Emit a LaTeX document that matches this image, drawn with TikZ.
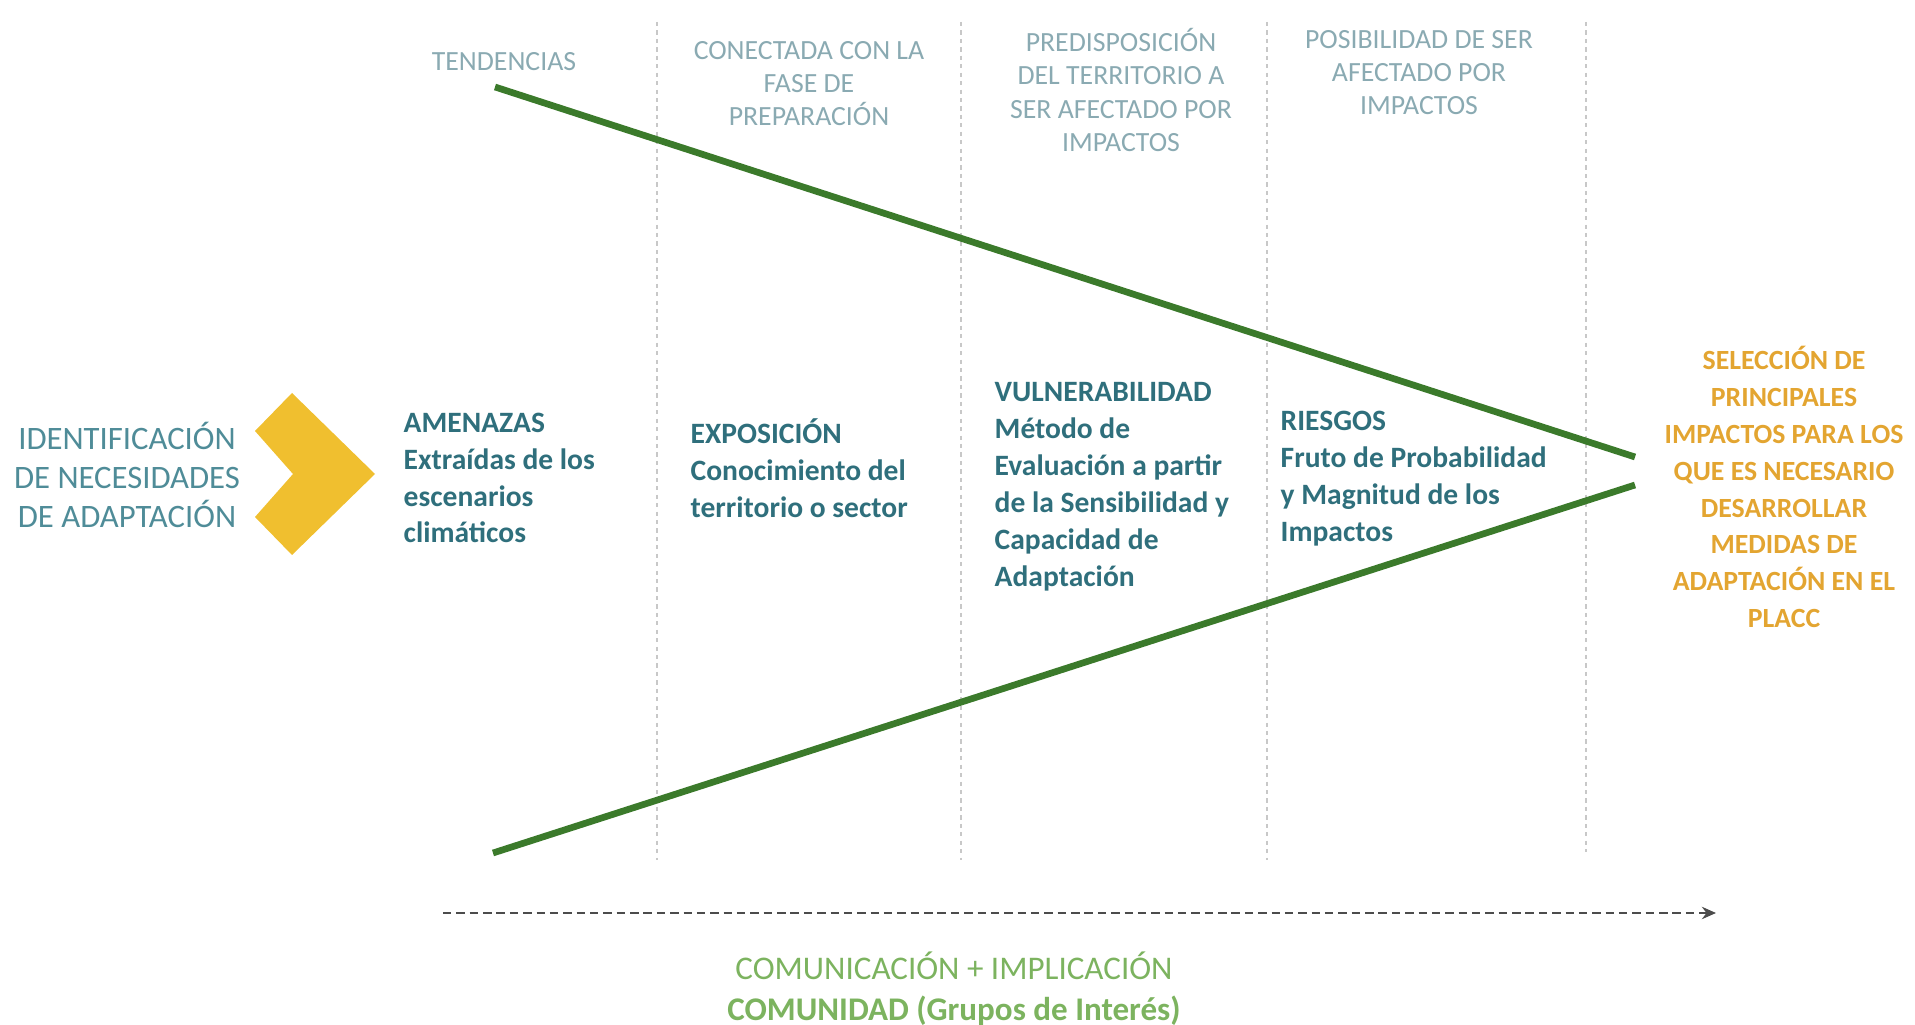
\documentclass[tikz,border=0pt]{standalone}
\usepackage{fontspec}
\setmainfont{Carlito}
\usetikzlibrary{arrows.meta}

\definecolor{headgray}{HTML}{8AAAB2}
\definecolor{leftteal}{HTML}{4F8C98}
\definecolor{phaseteal}{HTML}{2F6F7C}
\definecolor{resorange}{HTML}{E3A531}
\definecolor{chevyellow}{HTML}{F0BF2F}
\definecolor{funnelgreen}{HTML}{3B7A2B}
\definecolor{commgreen}{HTML}{7CB35F}
\definecolor{sepgray}{HTML}{C8C8C8}

\tikzset{
  head/.style={text=headgray, align=center, font=\fontsize{7.9}{9.4}\selectfont},
  phase/.style={text=phaseteal, align=left, anchor=west, inner xsep=0pt,
    font=\bfseries\fontsize{8.4}{10.5}\selectfont},
  sep/.style={sepgray, line width=0.5pt, dash pattern=on 1.2pt off 1.2pt},
  funnel/.style={funnelgreen, line width=1.9pt},
  comm/.style={black!70, line width=0.7pt, dash pattern=on 2.4pt off 1.4pt,
    -{Stealth[length=4pt,width=3.5pt,fill=funnelgreen!70!black]}},
}

\begin{document}
\begin{tikzpicture}[x=0.01cm,y=-0.01cm]
  \useasboundingbox (0,0) rectangle (1915,1025);

  % separators
  \foreach \x/\yb in {657/860,961/860,1267/860,1586/852}
    \draw[sep] (\x,22) -- (\x,\yb);

  % chevron
  \fill[chevyellow] (292,393) -- (375,474) -- (292,555) -- (255,517)
    -- (293,474) -- (255,431) -- cycle;

  % funnel
  \coordinate (topL) at (495,87);
  \coordinate (topR) at (1635,457);
  \coordinate (botL) at (493,853);
  \coordinate (botR) at (1635,485);
  \draw[funnel] (topL) -- (topR);
  \draw[funnel] (botL) -- (botR);

  % headings
  \node[head] (tend) at (504,62) {TENDENCIAS};
  \node[head] (conec) at (809,84) {CONECTADA CON LA\\FASE DE\\PREPARACIÓN};
  \node[head] (predis) at (1121,90) {PREDISPOSICIÓN\\DEL TERRITORIO A\\SER AFECTADO POR\\IMPACTOS};
  \node[head] (posib) at (1419,73) {POSIBILIDAD DE SER\\AFECTADO POR\\IMPACTOS};

  % start
  \node[text=leftteal, align=center, font=\fontsize{9.3}{11.1}\selectfont] (ident) at (127,475)
    {IDENTIFICACIÓN\\DE NECESIDADES\\DE ADAPTACIÓN};

  % phases
  \node[phase] (amen) at (403,478) {AMENAZAS\\Extraídas de los\\escenarios\\climáticos};
  \node[phase] (expo) at (690,468) {EXPOSICIÓN\\Conocimiento del\\territorio o sector};
  \node[phase] (vuln) at (994,487) {VULNERABILIDAD\\Método de\\Evaluación a partir\\de la Sensibilidad y\\Capacidad de\\Adaptación};
  \node[phase] (ries) at (1280,479) {RIESGOS\\Fruto de Probabilidad\\y Magnitud de los\\Impactos};

  % result
  \node[text=resorange, align=center, font=\bfseries\fontsize{7.9}{10.5}\selectfont] (sel) at (1784,487)
    {SELECCIÓN DE\\PRINCIPALES\\IMPACTOS PARA LOS\\QUE ES NECESARIO\\DESARROLLAR\\MEDIDAS DE\\ADAPTACIÓN EN EL\\PLACC};

  % communication
  \coordinate (comA) at (443,913);
  \coordinate (comB) at (1716,913);
  \draw[comm] (comA) -- (comB);
  \node[text=commgreen, align=center, font=\fontsize{9.4}{11.8}\selectfont] (comu) at (954,989)
    {COMUNICACIÓN + IMPLICACIÓN\\\textbf{COMUNIDAD (Grupos de Interés)}};

\end{tikzpicture}
\end{document}
